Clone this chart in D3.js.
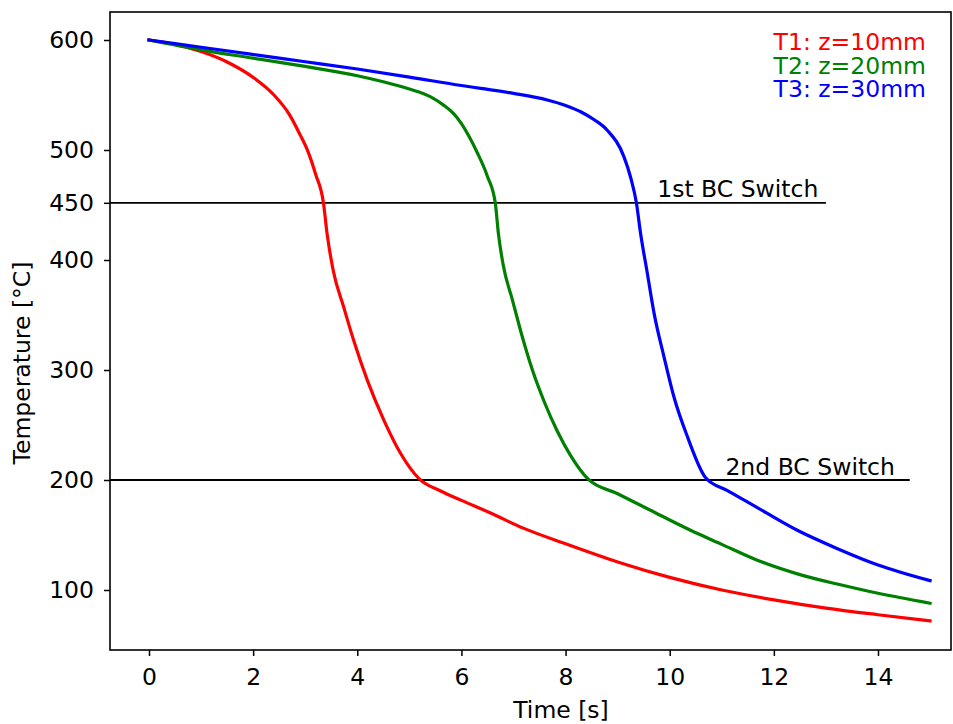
<!DOCTYPE html>
<html>
<head>
<meta charset="utf-8">
<script src="https://cdn.jsdelivr.net/npm/d3@7"></script>
<style>
  body { margin: 0; background: #fff; }
  text { font-family: "DejaVu Sans", sans-serif; }
</style>
</head>
<body>
<svg id="chart" width="953" height="724"></svg>
<script>
// ── Data ──────────────────────────────────────────────────────────────────
const t1Time = [0, 0.5, 1.0, 1.5, 2.0, 2.4, 2.7, 2.9, 3.05, 3.2, 3.35, 3.42, 3.54, 3.74, 3.93, 4.19, 4.51, 4.83, 5.19, 5.6, 6.0, 6.56, 7.2, 8, 9, 10, 11, 12, 13, 14, 15];
const t1Temp = [600, 596, 589.5, 580, 566, 550, 532, 514, 499, 478, 452, 424, 390, 357, 327, 291, 254.5, 224.3, 201, 190, 181.5, 170, 156, 142, 125.5, 111.5, 100, 91, 83.5, 77.5, 72];

const t2Time = [0, 1, 2, 3, 4, 4.5, 5.0, 5.2, 5.4, 5.65, 5.85, 6.0, 6.15, 6.3, 6.5, 6.65, 6.71, 6.8, 6.98, 7.17, 7.37, 7.6, 7.83, 8.1, 8.43, 9.0, 9.62, 10.39, 11.0, 11.67, 12.5, 13.3, 14, 15];
const t2Temp = [600, 591, 583.5, 576, 567.5, 562, 555.5, 552.5, 548.5, 541, 533, 524, 512, 498, 476, 452, 424, 396, 363.6, 330, 299, 270, 245.5, 222, 201, 187.5, 172.7, 154.5, 141.5, 127.3, 114, 104.5, 97, 88];

const t3Time = [0, 1, 2, 3, 4, 5, 6, 6.37, 7, 7.65, 8.0, 8.29, 8.55, 8.8, 9.12, 9.25, 9.36, 9.44, 9.57, 9.7, 9.89, 10.08, 10.34, 10.69, 11.1, 11.54, 12.44, 13.2, 14, 15];
const t3Temp = [600, 593.4, 586.8, 580.2, 573.6, 566.3, 558.6, 556, 551.5, 545.5, 540.5, 534.8, 527.5, 518, 494, 475, 452, 424.3, 388, 351.5, 312, 275.7, 239.4, 202, 190.5, 178.8, 154.5, 138, 122.7, 108.5];

const seriesNames  = ["T1: z=10mm", "T2: z=20mm", "T3: z=30mm"];
const seriesColors = ["#ff0000", "#008000", "#0000ff"];

const switchTemps  = [452, 200];
const switchEnds   = [13, 14.61];
const switchLabels = ["1st BC Switch", "2nd BC Switch"];
const switchLabelX = [9.76, 11.07];

const xTicks = [0, 2, 4, 6, 8, 10, 12, 14];
const yTicks = [100, 200, 300, 400, 452, 500, 600];
const yTickLabels = ["100", "200", "300", "400", "450", "500", "600"];

// ── Layout ────────────────────────────────────────────────────────────────
const frame = { left: 110, right: 951, top: 12, bottom: 650 };
const x = d3.scaleLinear().domain([0, 14]).range([149, 878]);
const y = d3.scaleLinear().domain([100, 600]).range([590, 40]);
const xMin = x.invert(frame.left);
const FS = 23.5;

const svg = d3.select('#chart');

svg.append('clipPath').attr('id', 'plot-clip')
  .append('rect')
  .attr('x', frame.left).attr('y', frame.top)
  .attr('width', frame.right - frame.left).attr('height', frame.bottom - frame.top);

const plot = svg.append('g').attr('clip-path', 'url(#plot-clip)');

// switch lines + labels
switchTemps.forEach((temp, i) => {
  plot.append('line')
    .attr('x1', x(xMin)).attr('x2', x(switchEnds[i]))
    .attr('y1', y(temp)).attr('y2', y(temp))
    .attr('stroke', '#000').attr('stroke-width', 1.8);
  svg.append('text')
    .attr('x', x(switchLabelX[i])).attr('y', y(temp) - 5.5)
    .attr('font-size', FS).attr('fill', '#000')
    .text(switchLabels[i]);
});

// curves
const series = [
  t1Time.map((t, i) => [t, t1Temp[i]]),
  t2Time.map((t, i) => [t, t2Temp[i]]),
  t3Time.map((t, i) => [t, t3Temp[i]])
];
const line = d3.line().x(d => x(d[0])).y(d => y(d[1])).curve(d3.curveMonotoneX);
series.forEach((pts, i) => {
  plot.append('path').datum(pts)
    .attr('d', line)
    .attr('fill', 'none')
    .attr('stroke', seriesColors[i])
    .attr('stroke-width', 3.2)
    .attr('stroke-linejoin', 'round')
    .attr('stroke-linecap', 'square');
});

// axes
const xAxis = d3.axisBottom(x).tickValues(xTicks).tickSize(6).tickPadding(12).tickFormat(d3.format('d'));
const yAxis = d3.axisLeft(y).tickValues(yTicks).tickSize(6).tickPadding(10)
  .tickFormat(d => yTickLabels[yTicks.indexOf(d)]);

const gx = svg.append('g').attr('transform', `translate(0,${frame.bottom})`).call(xAxis);
const gy = svg.append('g').attr('transform', `translate(${frame.left},0)`).call(yAxis);
[gx, gy].forEach(g => {
  g.select('.domain').remove();
  g.selectAll('.tick line').attr('stroke', '#000').attr('stroke-width', 1.5);
  g.selectAll('.tick text').attr('font-size', FS).attr('fill', '#000')
    .style('font-family', '"DejaVu Sans", sans-serif');
});

// frame
svg.append('rect')
  .attr('x', frame.left).attr('y', frame.top)
  .attr('width', frame.right - frame.left).attr('height', frame.bottom - frame.top)
  .attr('fill', 'none').attr('stroke', '#000').attr('stroke-width', 1.6);

// axis labels
svg.append('text')
  .attr('x', 561).attr('y', 718)
  .attr('text-anchor', 'middle').attr('font-size', FS)
  .text('Time [s]');
svg.append('text')
  .attr('transform', 'translate(30,363) rotate(-90)')
  .attr('text-anchor', 'middle').attr('font-size', FS)
  .text('Temperature [°C]');

// legend (text only, right-aligned)
seriesNames.forEach((name, i) => {
  svg.append('text')
    .attr('x', 926).attr('y', 50 + i * 23.7)
    .attr('text-anchor', 'end').attr('font-size', FS)
    .attr('fill', seriesColors[i])
    .text(name);
});
</script>
</body>
</html>
